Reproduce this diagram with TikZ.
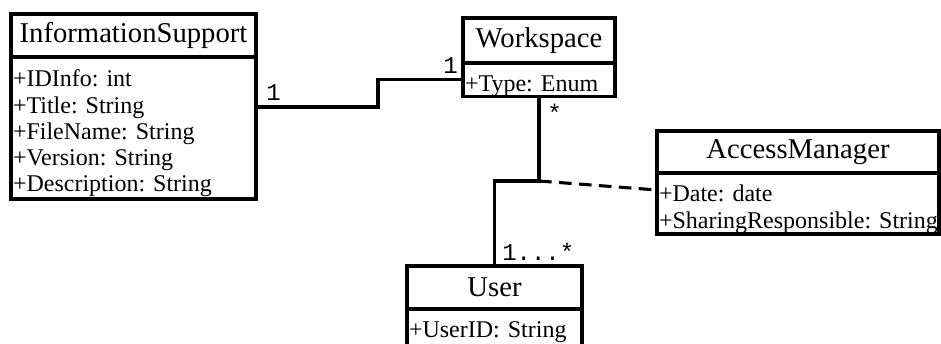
\documentclass[tikz,border=0pt]{standalone}
\usepackage{fontspec}
\setmainfont{Liberation Serif}
\newfontfamily\multfont{Liberation Mono}
\usetikzlibrary{positioning}
\frenchspacing

\tikzset{
  classname/.style={draw, line width=2.3pt, outer sep=0pt, inner sep=0pt, font=\fontsize{21.5}{24}\selectfont},
  classattr/.style={draw, line width=2.3pt, outer sep=0pt, align=left, inner xsep=1.5pt, inner ysep=0pt,
    font=\fontsize{18}{19.7}\selectfont, execute at begin node={\rule{0pt}{21pt}}},
  assoc/.style={line width=2.3pt},
  dependency/.style={line width=2.3pt, dash pattern=on 9.5pt off 5.5pt},
  mult/.style={font=\multfont\fontsize{18}{18}\selectfont, inner sep=0pt, anchor=base west},
}

\begin{document}
\begin{tikzpicture}[x=0.75pt,y=-0.75pt]
\useasboundingbox (0,0) rectangle (941,343);
\clip (0,0) rectangle (941,343);

% classes
\node[classname, anchor=north west, minimum width=183.75pt, minimum height=32.25pt] (info) at (11,14) {InformationSupport};
\node[classattr, below=0pt of info, text width=180.75pt, minimum height=106.5pt] (infoattr) {+IDInfo: int\\+Title: String\\+FileName: String\\+Version: String\\+Description: String};

\node[classname, anchor=north west, minimum width=114pt, minimum height=33.75pt] (ws) at (463,18) {Workspace};
\node[classattr, below=0pt of ws, text width=111pt, minimum height=24.75pt] (wsattr) {+Type: Enum};

\node[classname, anchor=north west, minimum width=131.25pt, minimum height=32.25pt] (user) at (407,266) {User};
\node[classattr, below=0pt of user, text width=128.25pt, minimum height=34.5pt] (userattr) {+UserID: String\rule[-15pt]{0pt}{0pt}};

\node[classname, anchor=north west, minimum width=211.5pt, minimum height=31.5pt] (am) at (657,131) {AccessManager};
\node[classattr, below=0pt of am, text width=208.5pt, minimum height=45.75pt] (amattr) {+Date: date\\+SharingResponsible:~String};

% associations
\draw[assoc] (infoattr.east |- 0,107) -- (378,107) |- (wsattr.west);
\coordinate (assocmid) at (wsattr.south |- 0,181);
\draw[assoc] (wsattr.south) -- (assocmid) -| (user.north);
\draw[dependency] (assocmid) -- (amattr.west |- 0,190);

% multiplicities
\node[mult] (multinfo) at (266,100) {1};
\node[mult] (multws) at (443,73) {1};
\node[mult] (multwsuser) at (547,121) {*};
\node[mult] (multuser) at (502,260) {1...*};
\end{tikzpicture}
\end{document}
